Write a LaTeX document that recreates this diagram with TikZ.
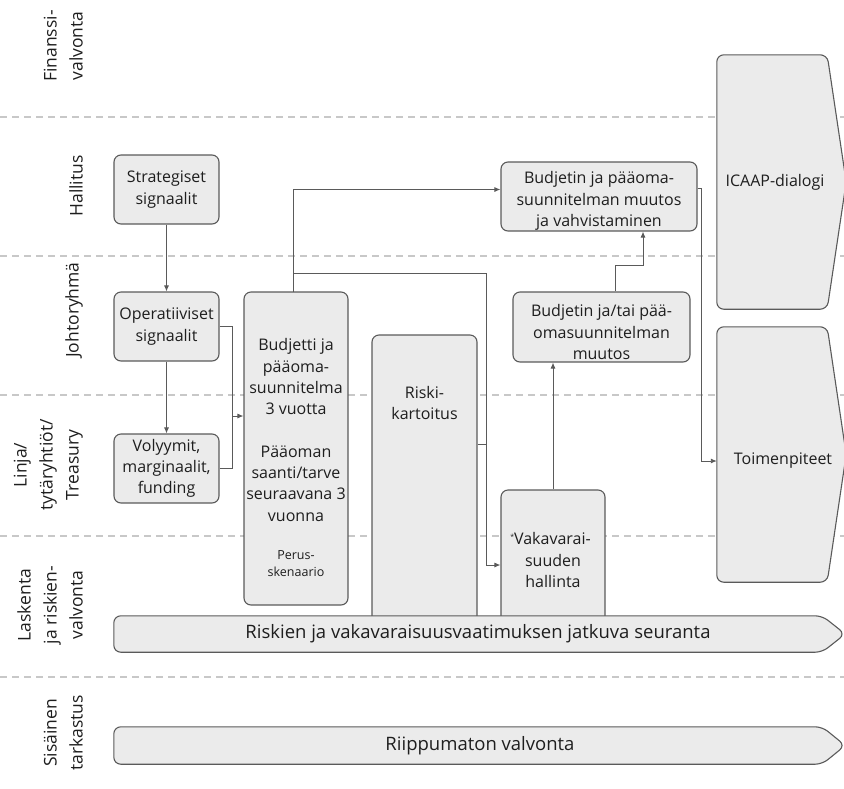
\documentclass[tikz,border=0pt]{standalone}
\usepackage{fontspec}
\setmainfont{Open Sans}
\usetikzlibrary{arrows.meta,calc}
\definecolor{boxfill}{HTML}{EBEBEB}
\definecolor{boxline}{HTML}{5A5A5A}
\definecolor{dashcol}{HTML}{C8C8C8}
\definecolor{txt}{HTML}{1E1E1E}
\begin{document}
\begin{tikzpicture}[x=1pt,y=-1pt,
  box/.style={draw=boxline, fill=boxfill, line width=1.1pt, rounded corners=7pt, inner sep=0pt},
  shp/.style={draw=boxline, fill=boxfill, line width=1.1pt, rounded corners=7pt},
  ghost/.style={inner sep=0pt, draw=none, fill=none},
  txtnode/.style={text=txt, align=center, font=\fontsize{16}{21.3}\selectfont, inner sep=0pt},
  smalltxt/.style={text=txt, align=center, font=\fontsize{12.5}{17}\selectfont, inner sep=0pt},
  lane/.style={text=txt, align=center, rotate=90, anchor=south, inner sep=0pt, font=\fontsize{17.5}{26}\selectfont},
  lanedash/.style={draw=dashcol, line width=1.4pt, dash pattern=on 7pt off 5pt},
  ln/.style={draw=boxline, line width=0.9pt},
  arr/.style={ln, -{Latex[length=6pt,width=5pt]}},
  bartxt/.style={text=txt, inner sep=0pt, font=\fontsize{18.5}{22}\selectfont}
]
\useasboundingbox (0,0) rectangle (844,788);
% lane separators
\foreach \yy in {117,256,395,536,677} \draw[lanedash] (0,\yy) -- (844,\yy);
% lane labels
\node[lane] (l1) at (83,46) {Finanssi-\\valvonta};
\node[lane] (l2) at (83,186) {Hallitus};
\node[lane] (l3) at (83,310) {Johtoryhmä};
\node[lane] (l4) at (83,465) {Linja/\\tytäryhtiöt/\\Treasury};
\node[lane] (l5) at (83,605) {Laskenta\\ja riskien-\\valvonta};
\node[lane] (l6) at (83,733) {Sisäinen\\tarkastus};
% boxes
\node[box, minimum width=105pt, minimum height=69pt, txtnode] (strat) at (166.5,189.5) {Strategiset\\signaalit};
\node[box, minimum width=105pt, minimum height=69pt, txtnode] (oper) at (166.5,326.5) {Operatiiviset\\signaalit};
\node[box, minimum width=105pt, minimum height=69pt, txtnode] (vol) at (166.5,468.5) {Volyymit,\\marginaalit,\\funding};
\node[box, minimum width=104pt, minimum height=313pt] (budj) at (296,448.5) {};
\node[txtnode] (budjtxt) at (296,430) {Budjetti ja\\pääoma-\\suunnitelma\\3 vuotta\\[21.3pt]Pääoman\\saanti/tarve\\seuraavana 3\\vuonna};
\node[smalltxt] (perus) at (296,563.5) {Perus-\\skenaario};
\node[box, minimum width=105pt, minimum height=310pt] (risk) at (424.5,490) {};
\node[txtnode] (risktxt) at (424.5,403) {Riski-\\kartoitus};
\node[box, minimum width=104pt, minimum height=150pt] (vak) at (553,565) {};
\node[txtnode] (vaktxt) at (553,560) {\hspace*{-5pt}\raisebox{5pt}{\fontsize{7}{7}\selectfont *}Vakavarai-\\suuden\\hallinta};
\node[box, minimum width=177pt, minimum height=70pt] (bjt) at (601.5,327) {};
\node[txtnode] (bjttxt) at (601.5,332) {Budjetin ja/tai pää-\\omasuunnitelman\\muutos};
\node[box, minimum width=196pt, minimum height=69pt] (bjp) at (599,196.5) {};
\node[txtnode] (bjptxt) at (599,201) {Budjetin ja pääoma-\\suunnitelman muutos\\ja vahvistaminen};
% pentagon shapes
\node[ghost, minimum width=110pt, minimum height=254pt] (icaap) at (772,182) {};
\draw[shp] (icaap.west) -- (icaap.north west) -- (icaap.north east) -- ($(icaap.east)+(19,0)$) -- (icaap.south east) -- (icaap.south west) -- cycle;
\node[txtnode] (icaaptxt) at (775,182) {ICAAP-dialogi};
\node[ghost, minimum width=110pt, minimum height=255pt] (toim) at (772,454.5) {};
\draw[shp] (toim.west) -- (toim.north west) -- (toim.north east) -- ($(toim.east)+(19,0)$) -- (toim.south east) -- (toim.south west) -- cycle;
\node[txtnode] (toimtxt) at (783,461) {Toimenpiteet};
% bars
\node[ghost, minimum width=708pt, minimum height=36pt] (bar1) at (468,634) {};
\draw[shp] (bar1.west) -- (bar1.north west) -- (bar1.north east) -- ($(bar1.east)+(23,0)$) -- (bar1.south east) -- (bar1.south west) -- cycle;
\node[bartxt] (bar1txt) at (478,634) {Riskien ja vakavaraisuusvaatimuksen jatkuva seuranta};
\node[ghost, minimum width=708pt, minimum height=37pt] (bar2) at (468,745.5) {};
\draw[shp] (bar2.west) -- (bar2.north west) -- (bar2.north east) -- ($(bar2.east)+(23,0)$) -- (bar2.south east) -- (bar2.south west) -- cycle;
\node[bartxt] (bar2txt) at (480,745.5) {Riippumaton valvonta};
% connectors
\coordinate (j1) at (232,416);
\coordinate (c1) at (486,273);
\coordinate (c2) at (486,444);
\coordinate (c3) at (615,265);
\coordinate (c4) at (643,265);
\coordinate (c5) at (701,461);
\coordinate (bt) at (293,292);
\draw[arr] (strat.south) -- (oper.north);
\draw[arr] (oper.south) -- (vol.north);
\draw[ln] (oper.east) -| (j1);
\draw[ln] (vol.east) -| (j1);
\draw[arr] (j1) -- (j1 -| budj.west);
\draw[arr] (bt) |- ($(bjp.west)+(0,-7)$);
\draw[ln] (bt) |- (c1);
\draw[arr] (c1) |- (vak.west);
\draw[ln] (c2 -| risk.east) -- (c2);
\draw[arr] (vak.north) -- (vak.north |- bjt.south);
\draw[arr] (c3 |- bjt.north) -- (c3) -- (c4) -- (c4 |- bjp.south);
\draw[arr] ($(bjp.east)+(0,-8)$) -| (c5) -- (c5 -| toim.west);
\end{tikzpicture}
\end{document}
